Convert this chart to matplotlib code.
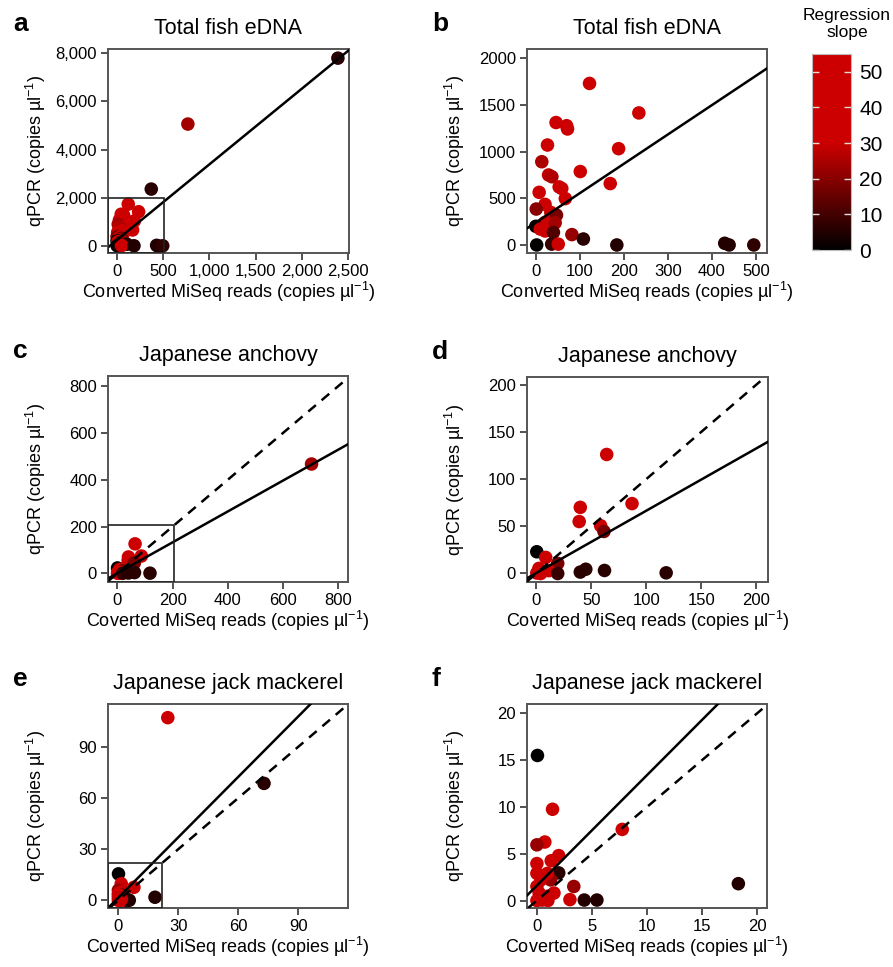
import numpy as np
import matplotlib
matplotlib.use("Agg")
import matplotlib.pyplot as plt
from matplotlib.colors import LinearSegmentedColormap
from matplotlib.patches import Rectangle
from matplotlib.ticker import FuncFormatter

plt.rcParams['font.family'] = ['Liberation Sans', 'DejaVu Sans']
plt.rcParams['mathtext.default'] = 'regular'

# total fish eDNA (panels a, b)
tf_reads = [2390, 767, 371, 122, 234, 46, 70, 72, 26.5, 188, 13.6, 101, 29, 36.5,
            169, 7.6, 53, 59, 67, 21, 1, 34, 47, 21, 44, 0, 10, 21, 40, 82, 108,
            2, 36, 51, 184, 429, 439, 495]
tf_qpcr = [7800, 5060, 2357, 1731, 1415, 1312, 1278, 1243, 1071, 1032, 892, 787, 750, 731,
           658, 564, 622, 605, 497, 435, 385, 349, 320, 242, 238, 200, 171, 150, 135, 111, 64,
           0, 9, 9, 0, 18, 0, 0]
tf_slope = [6, 24, 6, 42, 42, 42, 40, 38, 42, 42, 25, 42, 28, 26,
            40, 42, 40, 38, 42, 42, 20, 35, 18, 40, 24, 1, 42, 40, 12, 22, 6,
            0.5, 8, 42, 5, 5, 5, 7]

# Japanese anchovy (panels c, d)
an_reads = [703, 64, 40, 39, 87, 58.5, 61.5, 0.5, 8.6, 19.5, 2.4, 11.5, 0.5, 4,
            19.5, 40, 45, 62, 118]
an_qpcr = [467, 126, 70, 55, 74, 50.6, 44.5, 23, 17, 10.7, 5.4, 3, 0.5, 0,
           0, 1.5, 4.5, 3.2, 0.7]
an_slope = [24, 42, 42, 42, 42, 42, 18, 0, 40, 18, 42, 42, 42, 42,
            8, 6, 6, 6, 6]

# Japanese jack mackerel (panels e, f)
jm_reads = [24.7, 72.8, 18.3, 0.05, 1.42, 7.75, 0.72, 0, 0, 1.3, 1.98, 1.98, 1.25, 3.35,
            3.0, 4.3, 5.45, 0, 0.35, 0.95, 0, 0.2, 0.95, 1.55, 0.5, 0, 0.3, 1.0]
jm_qpcr = [107, 68.5, 1.8, 15.5, 9.75, 7.6, 6.25, 5.95, 3.95, 4.25, 4.8, 2.95, 2.2, 1.5,
           0.1, 0.05, 0.05, 2.9, 2.2, 2.9, 1.5, 0.8, 0.45, 0.8, 0.05, 0, 0.1, 0.0]
jm_slope = [42, 6, 5, 0, 42, 45, 42, 22, 40, 42, 42, 6, 22, 22,
            42, 5, 5, 42, 42, 40, 42, 42, 42, 42, 42, 40, 42, 42]

# fitted regression lines (intercept, slope)
tf_fit = (241, 3.145)
an_fit = (0.5, 0.66)
jm_fit = (1.6, 1.18)

cmap = LinearSegmentedColormap.from_list(
    'slope', [(0, '#000000'), (30 / 55, '#cc0000'), (1, '#cc0000')])

W, H = 893, 967
fig = plt.figure(figsize=(W / 100, H / 100), dpi=100)


def axbox(x0, y0, x1, y1):
    return [x0 / W, 1 - y1 / H, (x1 - x0) / W, (y1 - y0) / H]


comma = FuncFormatter(lambda v, p: f'{int(v):,}')

panels = [
    ('a', 'Total fish eDNA', axbox(108, 49, 349, 253), tf_reads, tf_qpcr, tf_slope, tf_fit, False,
     (-97, 2510), (-300, 8180), np.arange(0, 2501, 500), np.arange(0, 8001, 2000), True, (510, 2000), 'Converted'),
    ('b', 'Total fish eDNA', axbox(527, 49, 767, 253), tf_reads, tf_qpcr, tf_slope, tf_fit, False,
     (-20, 525), (-86, 2100), np.arange(0, 501, 100), np.arange(0, 2001, 500), False, None, 'Converted'),
    ('c', 'Japanese anchovy', axbox(108, 376, 348, 582), an_reads, an_qpcr, an_slope, an_fit, True,
     (-34, 835), (-37, 843), np.arange(0, 801, 200), np.arange(0, 801, 200), False, (205, 205), 'Coverted'),
    ('d', 'Japanese anchovy', axbox(527, 377, 768, 582), an_reads, an_qpcr, an_slope, an_fit, True,
     (-8.4, 210.5), (-9, 208), np.arange(0, 201, 50), np.arange(0, 201, 50), False, None, 'Coverted'),
    ('e', 'Japanese jack mackerel', axbox(108, 704, 348, 908), jm_reads, jm_qpcr, jm_slope, jm_fit, True,
     (-5.2, 114.8), (-4.5, 115), [0, 30, 60, 90], [0, 30, 60, 90], False, (22, 22), 'Coverted'),
    ('f', 'Japanese jack mackerel', axbox(527, 704, 767, 908), jm_reads, jm_qpcr, jm_slope, jm_fit, True,
     (-0.9, 20.9), (-0.8, 21), np.arange(0, 21, 5), np.arange(0, 21, 5), False, None, 'Coverted'),
]

for (lab, title, box, xs, ys, cs, fit, one2one, xlim, ylim, xt, yt, commas, inset, word) in panels:
    ax = fig.add_axes(box)
    ax.scatter(xs, ys, c=cs, cmap=cmap, vmin=0, vmax=55, s=95, edgecolors='none', zorder=2)
    ax.axline((0, fit[0]), slope=fit[1], color='black', lw=1.8, zorder=3)
    if one2one:
        ax.axline((0, 0), slope=1, color='black', lw=1.8, dashes=(4, 3), zorder=3)
    if inset is not None:
        ax.add_patch(Rectangle((xlim[0], ylim[0]), inset[0] - xlim[0], inset[1] - ylim[0],
                               fill=False, ec='#222222', lw=1.2, zorder=4))
    ax.set_xlim(xlim)
    ax.set_ylim(ylim)
    ax.set_xticks(xt)
    ax.set_yticks(yt)
    if commas:
        ax.xaxis.set_major_formatter(comma)
        ax.yaxis.set_major_formatter(comma)
    ax.tick_params(labelsize=12, length=5, width=1.2, color='#333333', pad=3)
    for sp in ax.spines.values():
        sp.set_color('#555555')
        sp.set_linewidth(1.4)
    ax.set_title(title, fontsize=15.5, pad=11)
    ax.set_xlabel(word + ' MiSeq reads (copies µl$^{-1}$)', fontsize=13)
    ax.set_ylabel('qPCR (copies µl$^{-1}$)', fontsize=13)
    ax.xaxis.set_label_coords(0.5, -0.13)
    ax.yaxis.set_label_coords(-0.25, 0.5)
    fig.text(box[0] - 95 / W, box[1] + box[3] + 13 / H, lab, fontsize=19, fontweight='bold',
             va='bottom', ha='left')

# colour bar
cax = fig.add_axes(axbox(812, 54, 851, 250))
sm = plt.cm.ScalarMappable(cmap=cmap, norm=plt.Normalize(0, 55))
cb = fig.colorbar(sm, cax=cax, ticks=[0, 10, 20, 30, 40, 50])
cb.outline.set_edgecolor('#bbbbbb')
cb.outline.set_linewidth(0.8)
cax.tick_params(labelsize=15, direction='in', length=5, width=1, color='#dddddd',
                left=True, right=True, pad=6)
fig.text(847 / W, 1 - 8 / H, 'Regression\nslope', fontsize=12.5, ha='center', va='top',
         linespacing=1.15)

fig.savefig('out.png', dpi=100)
